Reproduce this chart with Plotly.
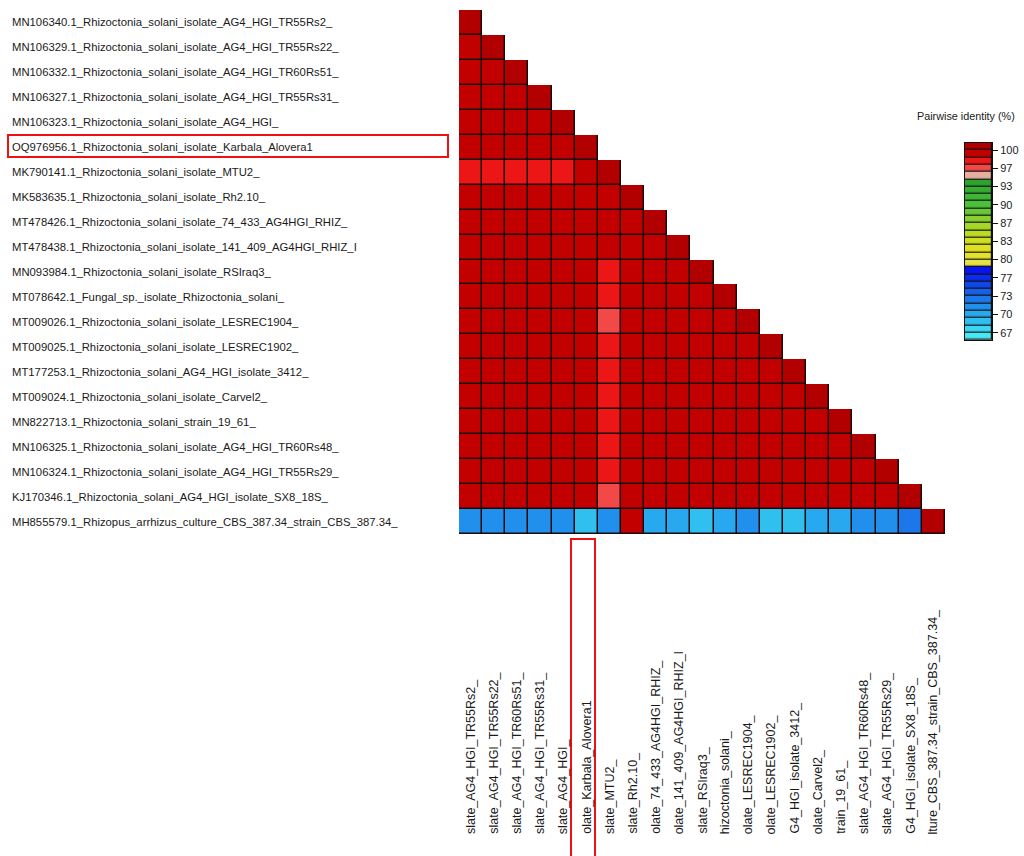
import plotly.graph_objects as go

W, H = 1024, 856

# Sequence names (rows, top to bottom)
seq_names = [
    "MN106340.1_Rhizoctonia_solani_isolate_AG4_HGI_TR55Rs2_",
    "MN106329.1_Rhizoctonia_solani_isolate_AG4_HGI_TR55Rs22_",
    "MN106332.1_Rhizoctonia_solani_isolate_AG4_HGI_TR60Rs51_",
    "MN106327.1_Rhizoctonia_solani_isolate_AG4_HGI_TR55Rs31_",
    "MN106323.1_Rhizoctonia_solani_isolate_AG4_HGI_",
    "OQ976956.1_Rhizoctonia_solani_isolate_Karbala_Alovera1",
    "MK790141.1_Rhizoctonia_solani_isolate_MTU2_",
    "MK583635.1_Rhizoctonia_solani_isolate_Rh2.10_",
    "MT478426.1_Rhizoctonia_solani_isolate_74_433_AG4HGI_RHIZ_",
    "MT478438.1_Rhizoctonia_solani_isolate_141_409_AG4HGI_RHIZ_I",
    "MN093984.1_Rhizoctonia_solani_isolate_RSIraq3_",
    "MT078642.1_Fungal_sp._isolate_Rhizoctonia_solani_",
    "MT009026.1_Rhizoctonia_solani_isolate_LESREC1904_",
    "MT009025.1_Rhizoctonia_solani_isolate_LESREC1902_",
    "MT177253.1_Rhizoctonia_solani_AG4_HGI_isolate_3412_",
    "MT009024.1_Rhizoctonia_solani_isolate_Carvel2_",
    "MN822713.1_Rhizoctonia_solani_strain_19_61_",
    "MN106325.1_Rhizoctonia_solani_isolate_AG4_HGI_TR60Rs48_",
    "MN106324.1_Rhizoctonia_solani_isolate_AG4_HGI_TR55Rs29_",
    "KJ170346.1_Rhizoctonia_solani_AG4_HGI_isolate_SX8_18S_",
    "MH855579.1_Rhizopus_arrhizus_culture_CBS_387.34_strain_CBS_387.34_",
]

# Column labels (visible tail of each name)
col_labels = [
    "slate_AG4_HGI_TR55Rs2_",
    "slate_AG4_HGI_TR55Rs22_",
    "slate_AG4_HGI_TR60Rs51_",
    "slate_AG4_HGI_TR55Rs31_",
    "slate_AG4_HGI_",
    "olate_Karbala_Alovera1",
    "slate_MTU2_",
    "slate_Rh2.10_",
    "olate_74_433_AG4HGI_RHIZ_",
    "olate_141_409_AG4HGI_RHIZ_I",
    "slate_RSIraq3_",
    "hizoctonia_solani_",
    "olate_LESREC1904_",
    "olate_LESREC1902_",
    "G4_HGI_isolate_3412_",
    "olate_Carvel2_",
    "train_19_61_",
    "slate_AG4_HGI_TR60Rs48_",
    "slate_AG4_HGI_TR55Rs29_",
    "G4_HGI_isolate_SX8_18S_",
    "lture_CBS_387.34_strain_CBS_387.34_",
]

# Pairwise identity (%), lower triangle incl. diagonal
identity = [
    [100],
    [99.8, 100],
    [99.7, 99.8, 100],
    [99.8, 99.7, 99.6, 100],
    [99.6, 99.7, 99.6, 99.7, 100],
    [99.4, 99.3, 99.4, 99.3, 99.4, 100],
    [98.1, 98.0, 98.2, 98.1, 98.0, 99.1, 100],
    [99.5, 99.4, 99.5, 99.6, 99.5, 99.3, 99.0, 100],
    [99.4, 99.5, 99.4, 99.5, 99.4, 99.2, 98.9, 99.6, 100],
    [99.3, 99.4, 99.5, 99.4, 99.3, 99.1, 98.8, 99.5, 99.7, 100],
    [99.5, 99.4, 99.5, 99.6, 99.4, 99.2, 98.2, 99.5, 99.4, 99.5, 100],
    [99.4, 99.5, 99.4, 99.5, 99.4, 99.2, 98.5, 99.4, 99.5, 99.4, 99.6, 100],
    [99.2, 99.3, 99.3, 99.2, 99.3, 99.0, 97.0, 99.2, 99.3, 99.2, 99.4, 99.3, 100],
    [99.5, 99.4, 99.5, 99.4, 99.5, 99.3, 98.2, 99.4, 99.5, 99.4, 99.5, 99.6, 99.3, 100],
    [99.4, 99.5, 99.4, 99.5, 99.4, 99.2, 98.1, 99.5, 99.4, 99.5, 99.4, 99.5, 99.2, 99.6, 100],
    [99.5, 99.4, 99.5, 99.4, 99.5, 99.3, 98.2, 99.4, 99.5, 99.4, 99.5, 99.4, 99.3, 99.5, 99.6, 100],
    [99.4, 99.5, 99.4, 99.5, 99.4, 99.2, 98.1, 99.5, 99.4, 99.5, 99.4, 99.5, 99.2, 99.4, 99.5, 99.6, 100],
    [99.6, 99.7, 99.6, 99.7, 99.6, 99.3, 98.2, 99.5, 99.4, 99.5, 99.4, 99.5, 99.3, 99.5, 99.4, 99.5, 99.4, 100],
    [99.7, 99.6, 99.7, 99.8, 99.6, 99.4, 98.1, 99.4, 99.5, 99.4, 99.5, 99.4, 99.2, 99.4, 99.5, 99.4, 99.5, 99.7, 100],
    [99.3, 99.2, 99.3, 99.2, 99.3, 99.1, 96.9, 99.3, 99.2, 99.3, 99.2, 99.3, 99.1, 99.2, 99.3, 99.2, 99.3, 99.2, 99.3, 100],
    [71.3, 71.1, 71.0, 71.2, 71.6, 68.4, 71.0, 99.3, 70.2, 70.0, 69.1, 70.4, 71.5, 68.2, 68.1, 69.4, 70.3, 71.2, 71.4, 72.3, 100],
]

# Colour bands, highest identity first
band_colors = [
    "#b20000", "#c30000", "#ec1616", "#f24848", "#e8ae9e",
    "#2ea42e", "#36ac30", "#40b636", "#4cc03a", "#68c83a",
    "#88d030", "#a6d82a", "#bcdc22", "#cce020", "#e0e020",
    "#e6e22c", "#e8e444",
    "#0a14ee", "#0a2cee", "#1048e8", "#1860e8", "#1c78ea",
    "#2090ec", "#28a8ee", "#30c0f0", "#3ad6f4", "#44eaf6",
]
tick_vals = [100, 96.667, 93.333, 90, 86.667, 83.333, 80, 76.667, 73.333, 70, 66.667]
tick_text = ["100", "97", "93", "90", "87", "83", "80", "77", "73", "70", "67"]

z_min, z_max = 65.3333, 101.3333
n_bands = len(band_colors)
step = (z_max - z_min) / n_bands

colorscale = []
for j in range(n_bands):
    c = band_colors[n_bands - 1 - j]
    colorscale.append([j / n_bands, c])
    colorscale.append([(j + 1) / n_bands, c])

n = len(seq_names)
z = [[(identity[i][j] if j <= i else None) for j in range(n)] for i in range(n)]
mask = [[(1 if j <= i else None) for j in range(n)] for i in range(n)]
idx = list(range(n))

fig = go.Figure()

# dark grid lines under the cells
fig.add_trace(go.Heatmap(
    z=mask, x=idx, y=idx, colorscale=[[0, "#1a0a0a"], [1, "#1a0a0a"]],
    showscale=False, hoverinfo="skip",
))
fig.add_trace(go.Heatmap(
    z=z, x=idx, y=idx, colorscale=colorscale, zmin=z_min, zmax=z_max,
    xgap=1.5, ygap=1.5, showscale=False,
    hovertemplate="%{z}%<extra></extra>",
))

# colour key
band_centers = [z_max - step * (k + 0.5) for k in range(n_bands)]
fig.add_trace(go.Heatmap(
    z=[[1] for _ in band_centers], x=[0], y=band_centers,
    colorscale=[[0, "#111111"], [1, "#111111"]], showscale=False,
    xaxis="x2", yaxis="y2", hoverinfo="skip",
))
fig.add_trace(go.Heatmap(
    z=[[v] for v in band_centers], x=[0], y=band_centers,
    colorscale=colorscale, zmin=z_min, zmax=z_max, showscale=False,
    ygap=1.2, xgap=1.2, xaxis="x2", yaxis="y2", hoverinfo="skip",
))

font_family = "Liberation Sans, Arial, sans-serif"
annotations = []
for i, name in enumerate(seq_names):
    annotations.append(dict(
        x=10 / W, xref="paper", y=i, yref="y", text=name, showarrow=False,
        xanchor="left", yanchor="middle",
        font=dict(family=font_family, size=11.3, color="#1a1a1a"),
    ))
for j, lab in enumerate(col_labels):
    annotations.append(dict(
        x=j, xref="x", y=1 - 836 / H, yref="paper", text=lab, showarrow=False,
        textangle=-90, xanchor="center", yanchor="bottom",
        font=dict(family=font_family, size=12.5, color="#1a1a1a"),
    ))
annotations.append(dict(
    x=966 / W, xref="paper", y=1 - 116 / H, yref="paper",
    text="Pairwise identity (%)", showarrow=False,
    xanchor="center", yanchor="middle",
    font=dict(family=font_family, size=10.8, color="#1a1a1a"),
))

shapes = [
    dict(type="rect", xref="paper", yref="paper",
         x0=8 / W, x1=448 / W, y0=1 - 157 / H, y1=1 - 135 / H,
         line=dict(color="#ee1111", width=2)),
    dict(type="rect", xref="paper", yref="paper",
         x0=571 / W, x1=595 / W, y0=-0.01, y1=1 - 539 / H,
         line=dict(color="#ee1111", width=2)),
]

fig.update_layout(
    width=W, height=H,
    margin=dict(l=0, r=0, t=0, b=0),
    paper_bgcolor="white", plot_bgcolor="white",
    showlegend=False,
    xaxis=dict(domain=[459 / W, 945 / W], range=[-0.5, n - 0.5],
               showticklabels=False, showgrid=False, zeroline=False, ticks=""),
    yaxis=dict(domain=[1 - 534 / H, 1 - 10 / H], range=[n - 0.5, -0.5],
               showticklabels=False, showgrid=False, zeroline=False, ticks=""),
    xaxis2=dict(domain=[965 / W, 992 / W], range=[-0.5, 0.5], anchor="y2",
                showticklabels=False, showgrid=False, zeroline=False,
                showline=True, mirror=True, linecolor="#111111", linewidth=1),
    yaxis2=dict(domain=[1 - 340 / H, 1 - 142.7 / H], range=[z_min, z_max],
                anchor="x2", side="right", tickvals=tick_vals, ticktext=tick_text,
                ticks="outside", ticklen=5, tickcolor="#111111", showgrid=False,
                zeroline=False, showline=True, mirror=True, linecolor="#111111",
                tickfont=dict(family=font_family, size=11, color="#1a1a1a")),
    annotations=annotations,
    shapes=shapes,
)

fig.write_html("out.html")
